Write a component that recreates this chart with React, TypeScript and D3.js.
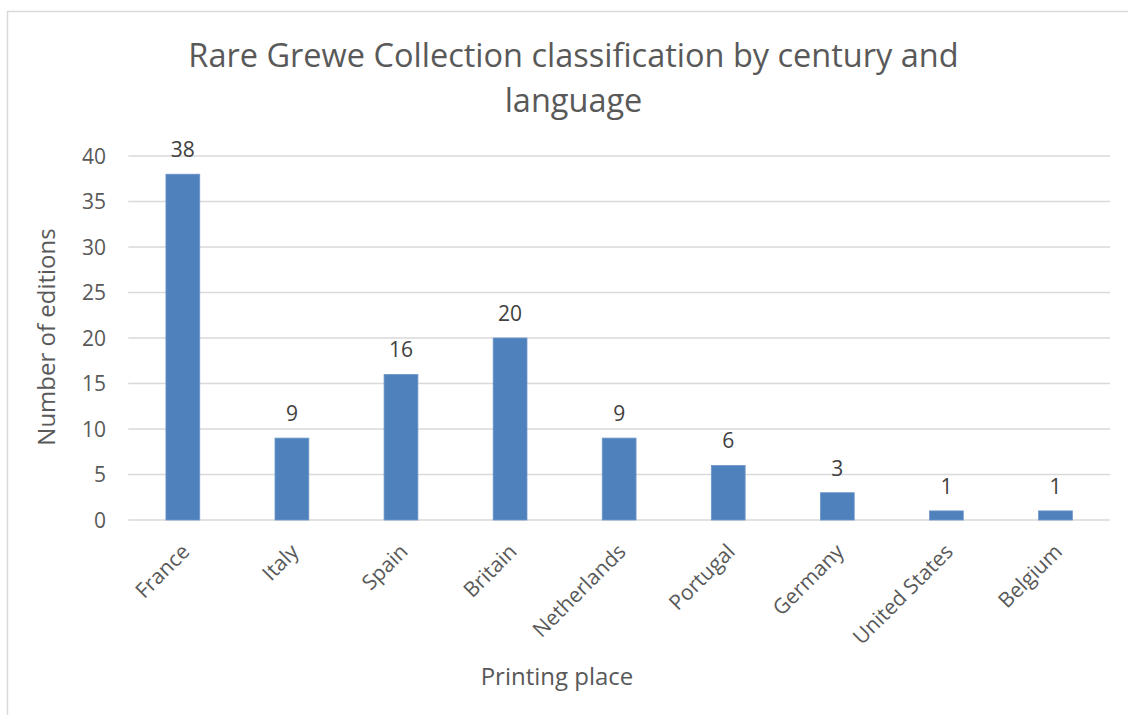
import React from "react";
import * as d3 from "d3";

const categories = ["France", "Italy", "Spain", "Britain", "Netherlands", "Portugal", "Germany", "United States", "Belgium"];
const editions = [38, 9, 16, 20, 9, 6, 3, 1, 1];
const yTicks = [0, 5, 10, 15, 20, 25, 30, 35, 40];
const titleLines = ["Rare Grewe Collection classification by century and", "language"];
const xTitle = "Printing place";
const yTitle = "Number of editions";

const W = 1128;
const H = 715;
const FONT = "'Open Sans', sans-serif";
const TXT = "#595959";
const GRID = "#d9d9d9";
const BAR = "#4f81bd";

export default function App() {
  const left = 128.3, right = 1110, top = 156, bottom = 520;
  const x = d3.scaleBand<string>().domain(categories).range([left, right]).paddingInner(0.69).paddingOuter(0.345);
  const y = d3.scaleLinear().domain([0, 40]).range([bottom, top]);
  const band = d3.scaleBand<string>().domain(categories).range([left, right]);

  return (
    <svg width={W} height={H} style={{ position: "absolute", left: 0, top: 0, background: "#fff" }} fontFamily={FONT}>
      <rect x={7.5} y={11.5} width={1300} height={900} fill="#fff" stroke={GRID} strokeWidth={1.5} />
      {titleLines.map((t, i) => (
        <text key={i} x={573.5} y={67 + i * 45} textAnchor="middle" fontSize={32.5} fill={TXT}>{t}</text>
      ))}
      {yTicks.map((t) => (
        <g key={t}>
          <line x1={left} x2={right} y1={y(t)} y2={y(t)} stroke={GRID} strokeWidth={1.5} />
          <text x={106} y={y(t)} dy="0.36em" textAnchor="end" fontSize={21} fill={TXT}>{t}</text>
        </g>
      ))}
      {categories.map((c, i) => (
        <g key={c}>
          <rect x={x(c)} y={y(editions[i])} width={x.bandwidth()} height={y(0) - y(editions[i])} fill={BAR} stroke="#6f97c9" strokeWidth={0.8} />
          <text x={x(c)! + x.bandwidth() / 2} y={y(editions[i]) - 17} textAnchor="middle" fontSize={21} fill="#404040">{editions[i]}</text>
          <text transform={`translate(${band(c)! + band.bandwidth() / 2 + 8},${553}) rotate(-45)`} textAnchor="end" fontSize={21} fill={TXT}>{c}</text>
        </g>
      ))}
      <text x={557} y={685} textAnchor="middle" fontSize={24} fill={TXT}>{xTitle}</text>
      <text transform={`translate(55,337) rotate(-90)`} textAnchor="middle" fontSize={24} fill={TXT}>{yTitle}</text>
    </svg>
  );
}
